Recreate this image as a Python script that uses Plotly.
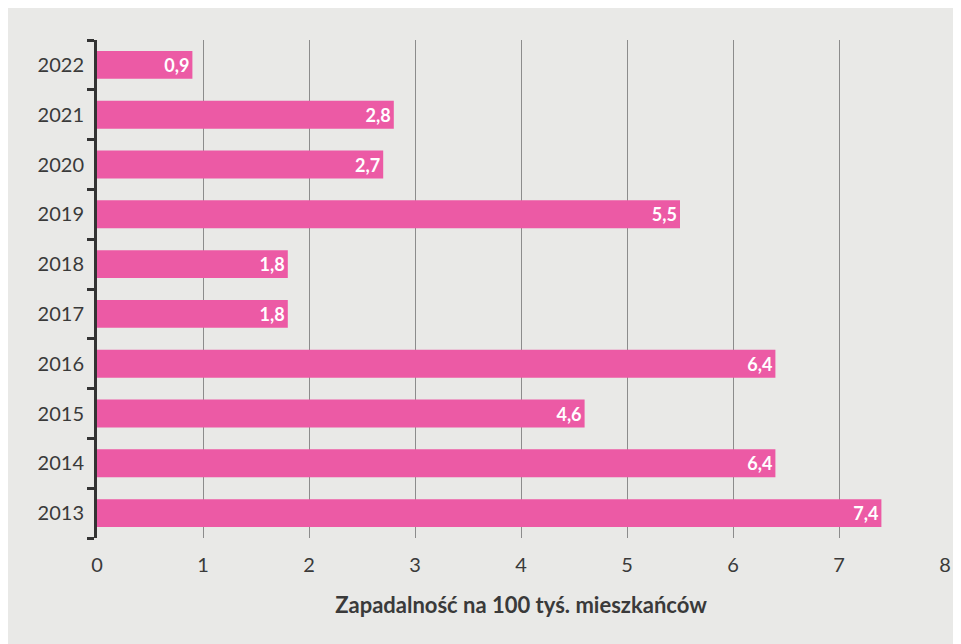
import plotly.graph_objects as go

years = ["2013", "2014", "2015", "2016", "2017", "2018", "2019", "2020", "2021", "2022"]
values = [7.4, 6.4, 4.6, 6.4, 1.8, 1.8, 5.5, 2.7, 2.8, 0.9]
labels = [f"{v:.1f}".replace(".", ",") for v in values]
x_ticks = [0, 1, 2, 3, 4, 5, 6, 7, 8]

fig = go.Figure(go.Bar(
    y=years, x=values, orientation="h",
    marker=dict(color="#ec5aa5", line=dict(width=0)),
    text=labels, textposition="inside", insidetextanchor="end",
    textfont=dict(color="white", size=19, family="Lato", weight="bold"),
    width=0.56,
))

fig.update_layout(
    width=953, height=636,
    margin=dict(l=89, r=16, t=32, b=106),
    paper_bgcolor="#e9e9e7", plot_bgcolor="#e9e9e7",
    font=dict(family="Lato", color="#3a3a3a", size=20),
    showlegend=False,
    xaxis=dict(
        range=[0, 8], tickvals=x_ticks, ticktext=[str(t) for t in x_ticks],
        showgrid=True, gridcolor="#8c8c8c", gridwidth=1, automargin=False,
        zeroline=False, showline=False, ticks="", ticklabelstandoff=13,
        title=dict(text="<b>Zapadalność na 100 tyś. mieszkańców</b>", font=dict(size=22, color="#3a3a3a"), standoff=22),
    ),
    yaxis=dict(
        categoryorder="array", categoryarray=years, automargin=False,
        showline=True, linecolor="#333333", linewidth=3,
        ticks="outside", tickson="boundaries", ticklen=7, tickwidth=3, tickcolor="#333333",
        showgrid=False, ticklabelstandoff=6,
    ),
    uniformtext=dict(minsize=10, mode="show"),
)

fig.write_html("out.html")
